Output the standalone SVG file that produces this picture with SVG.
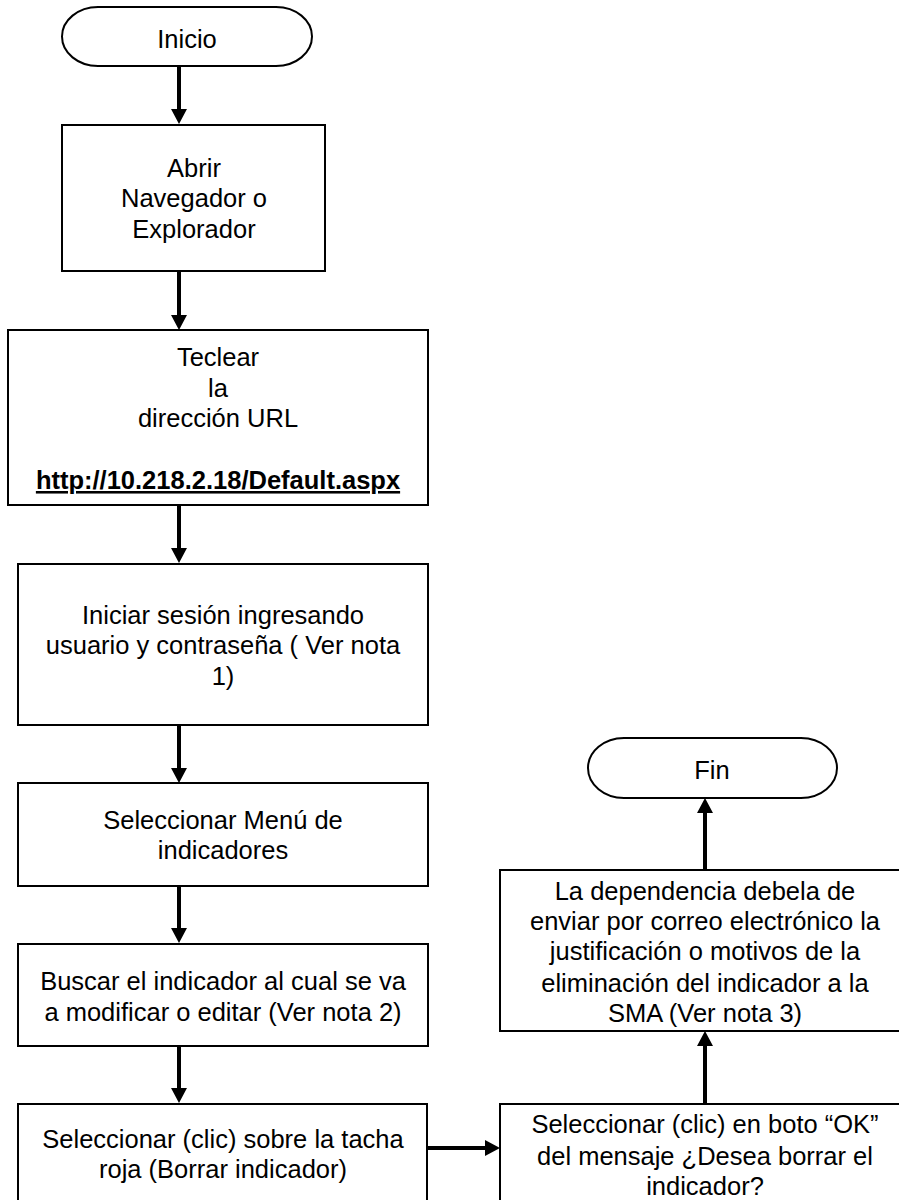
<svg xmlns="http://www.w3.org/2000/svg" width="899" height="1200" viewBox="0 0 899 1200">
<style>
.b{fill:#fff;stroke:#000;stroke-width:2}
.t{font-family:"Liberation Sans",Arial,sans-serif;font-size:25.5px;fill:#000;text-anchor:middle}
.u{font-weight:bold;text-decoration:underline}
.c{stroke:#000;stroke-width:4;fill:none}
</style>
<defs>
<marker id="ah" viewBox="0 0 15 16" refX="3" refY="8" markerWidth="15" markerHeight="16" markerUnits="userSpaceOnUse" orient="auto">
<path d="M0,0 L15,8 L0,16 z" fill="#000"/>
</marker>
</defs>
<rect width="899" height="1200" fill="#fff"/>
<g id="connectors">
<line class="c" x1="179" y1="67" x2="179" y2="112" marker-end="url(#ah)"/>
<line class="c" x1="179" y1="271" x2="179" y2="318" marker-end="url(#ah)"/>
<line class="c" x1="179" y1="505" x2="179" y2="551" marker-end="url(#ah)"/>
<line class="c" x1="179" y1="725" x2="179" y2="771" marker-end="url(#ah)"/>
<line class="c" x1="179" y1="886" x2="179" y2="931" marker-end="url(#ah)"/>
<line class="c" x1="179" y1="1046" x2="179" y2="1091" marker-end="url(#ah)"/>
<line class="c" x1="427" y1="1148" x2="488" y2="1148" marker-end="url(#ah)"/>
<line class="c" x1="705" y1="1104" x2="705" y2="1043" marker-end="url(#ah)"/>
<line class="c" x1="705" y1="870" x2="705" y2="810" marker-end="url(#ah)"/>
</g>
<g id="inicio">
<rect class="b" x="62" y="7" width="250" height="59" rx="36" ry="29.5"/>
<text class="t" x="187" y="48">Inicio</text>
</g>
<g id="abrir">
<rect class="b" x="62" y="125" width="263" height="146"/>
<text class="t" x="194" y="177">Abrir</text>
<text class="t" x="194" y="207">Navegador o</text>
<text class="t" x="194" y="238">Explorador</text>
</g>
<g id="teclear">
<rect class="b" x="8" y="330" width="420" height="175"/>
<text class="t" x="218" y="366">Teclear</text>
<text class="t" x="218" y="397">la</text>
<text class="t" x="218" y="427">dirección URL</text>
<text class="t u" x="218" y="489">http://10.218.2.18/Default.aspx</text>
</g>
<g id="iniciar">
<rect class="b" x="18" y="564" width="410" height="161"/>
<text class="t" x="223" y="624">Iniciar sesión ingresando</text>
<text class="t" x="223" y="654">usuario y contraseña ( Ver nota</text>
<text class="t" x="223" y="685">1)</text>
</g>
<g id="menu">
<rect class="b" x="18" y="783" width="410" height="103"/>
<text class="t" x="223" y="829">Seleccionar Menú de</text>
<text class="t" x="223" y="859">indicadores</text>
</g>
<g id="buscar">
<rect class="b" x="18" y="944" width="410" height="102"/>
<text class="t" x="223" y="990">Buscar el indicador al cual se va</text>
<text class="t" x="223" y="1021">a modificar o editar (Ver nota 2)</text>
</g>
<g id="tacha">
<rect class="b" x="18" y="1104" width="409" height="110"/>
<text class="t" x="223" y="1148">Seleccionar (clic) sobre la tacha</text>
<text class="t" x="223" y="1178">roja (Borrar indicador)</text>
</g>
<g id="ok">
<rect class="b" x="500" y="1104" width="420" height="110"/>
<text class="t" x="705" y="1133">Seleccionar (clic) en boto “OK”</text>
<text class="t" x="705" y="1165">del mensaje ¿Desea borrar el</text>
<text class="t" x="705" y="1195">indicador?</text>
</g>
<g id="sma">
<rect class="b" x="500" y="870" width="420" height="161"/>
<text class="t" x="705" y="900">La dependencia debela de</text>
<text class="t" x="705" y="930">enviar por correo electrónico la</text>
<text class="t" x="705" y="960">justificación o motivos de la</text>
<text class="t" x="705" y="992">eliminación del indicador a la</text>
<text class="t" x="705" y="1022">SMA (Ver nota 3)</text>
</g>
<g id="fin">
<rect class="b" x="588" y="738" width="249" height="60" rx="36" ry="30"/>
<text class="t" x="712" y="779">Fin</text>
</g>
</svg>
